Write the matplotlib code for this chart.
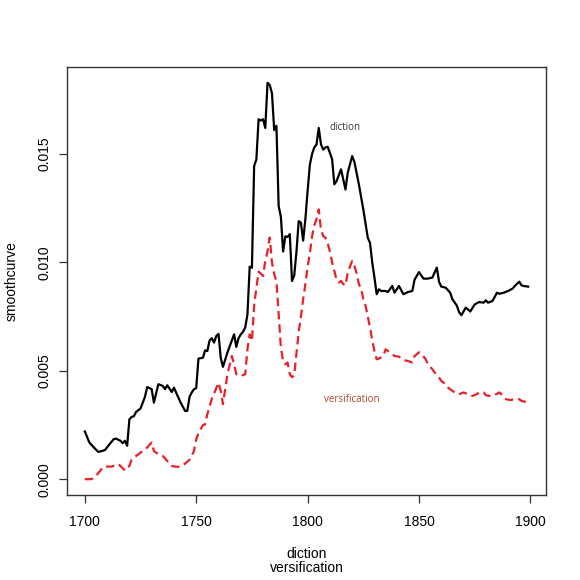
import matplotlib
matplotlib.use("Agg")
import matplotlib.pyplot as plt

diction_years = [1700, 1702, 1704, 1706, 1707, 1709, 1711, 1713, 1714, 1716, 1717, 1718, 1719,
                 1720, 1721, 1722, 1723, 1725, 1727, 1728, 1730, 1731, 1733, 1735, 1736, 1737,
                 1739, 1740, 1742, 1743, 1745, 1746, 1747, 1748, 1749, 1750, 1751, 1753, 1754,
                 1755, 1756, 1757, 1758, 1759, 1760, 1761, 1762, 1764, 1766, 1767, 1768, 1769,
                 1770, 1771, 1772, 1773, 1774, 1775, 1776, 1777, 1778, 1779, 1780, 1781, 1782,
                 1783, 1784, 1785, 1786, 1787, 1788, 1789, 1790, 1791, 1792, 1793, 1794, 1795,
                 1796, 1797, 1798, 1799, 1800, 1801, 1802, 1803, 1804, 1805, 1806, 1807, 1808,
                 1809, 1810, 1811, 1812, 1813, 1815, 1817, 1818, 1820, 1821, 1823, 1825, 1827,
                 1828, 1829, 1830, 1831, 1832, 1833, 1835, 1836, 1838, 1839, 1841, 1843, 1845,
                 1847, 1848, 1850, 1852, 1854, 1856, 1858, 1859, 1860, 1862, 1864, 1865, 1867,
                 1868, 1869, 1871, 1872, 1873, 1875, 1877, 1879, 1880, 1881, 1883, 1885, 1886,
                 1888, 1890, 1892, 1893, 1895, 1896, 1897, 1899]
diction_values = [0.00220, 0.00170, 0.00147, 0.00126, 0.00128, 0.00134, 0.00160, 0.00185, 0.00187,
                  0.00177, 0.00166, 0.00177, 0.00154, 0.00276, 0.00287, 0.00290, 0.00310, 0.00326,
                  0.00380, 0.00425, 0.00415, 0.00353, 0.00438, 0.00430, 0.00415, 0.00433, 0.00402,
                  0.00422, 0.00376, 0.00353, 0.00315, 0.00315, 0.00380, 0.00400, 0.00415, 0.00420,
                  0.00556, 0.00560, 0.00594, 0.00591, 0.00640, 0.00650, 0.00630, 0.00660, 0.00670,
                  0.00560, 0.00518, 0.00584, 0.00640, 0.00668, 0.00610, 0.00650, 0.00668, 0.00679,
                  0.00700, 0.00760, 0.00980, 0.00975, 0.01444, 0.01475, 0.01660, 0.01654, 0.01660,
                  0.01620, 0.01828, 0.01818, 0.01780, 0.01610, 0.01630, 0.01260, 0.01210, 0.01050,
                  0.01120, 0.01117, 0.01130, 0.00914, 0.00940, 0.01050, 0.01190, 0.01183, 0.01100,
                  0.01200, 0.01330, 0.01450, 0.01500, 0.01530, 0.01544, 0.01620, 0.01544, 0.01520,
                  0.01530, 0.01533, 0.01505, 0.01475, 0.01360, 0.01375, 0.01429, 0.01336, 0.01413,
                  0.01490, 0.01463, 0.01360, 0.01244, 0.01114, 0.01090, 0.01000, 0.00930, 0.00853,
                  0.00876, 0.00868, 0.00868, 0.00863, 0.00891, 0.00860, 0.00891, 0.00853, 0.00863,
                  0.00868, 0.00920, 0.00955, 0.00925, 0.00925, 0.00930, 0.00976, 0.00910, 0.00888,
                  0.00883, 0.00860, 0.00830, 0.00800, 0.00770, 0.00756, 0.00791, 0.00783, 0.00773,
                  0.00806, 0.00817, 0.00814, 0.00825, 0.00814, 0.00822, 0.00860, 0.00855, 0.00860,
                  0.00868, 0.00879, 0.00891, 0.00911, 0.00894, 0.00891, 0.00888]

versification_years = [1700, 1703, 1705, 1707, 1708, 1709, 1712, 1715, 1716, 1718, 1720, 1721, 1723,
                       1726, 1728, 1730, 1731, 1733, 1735, 1737, 1739, 1741, 1743, 1745, 1747, 1749,
                       1750, 1751, 1753, 1754, 1755, 1757, 1759, 1760, 1761, 1762, 1764, 1766, 1767,
                       1768, 1770, 1772, 1773, 1774, 1775, 1776, 1777, 1778, 1779, 1780, 1781, 1782,
                       1783, 1784, 1785, 1786, 1787, 1788, 1789, 1790, 1791, 1792, 1793, 1794, 1795,
                       1796, 1797, 1798, 1799, 1800, 1801, 1802, 1803, 1804, 1805, 1806, 1807, 1808,
                       1809, 1810, 1811, 1812, 1813, 1814, 1815, 1816, 1817, 1818, 1819, 1820, 1821,
                       1822, 1823, 1824, 1825, 1826, 1827, 1828, 1829, 1830, 1831, 1832, 1834, 1835,
                       1837, 1839, 1841, 1843, 1845, 1847, 1848, 1850, 1851, 1853, 1854, 1856, 1857,
                       1859, 1860, 1862, 1863, 1865, 1866, 1868, 1870, 1872, 1874, 1876, 1877, 1879,
                       1880, 1882, 1884, 1886, 1888, 1889, 1891, 1893, 1895, 1896, 1898, 1899]
versification_values = [0.0, 0.0, 0.00015, 0.00040, 0.00055, 0.00058, 0.00058, 0.00070, 0.00061,
                        0.00040, 0.00061, 0.00090, 0.00107, 0.00130, 0.00146, 0.00169, 0.00130,
                        0.00115, 0.00107, 0.00084, 0.00061, 0.00057, 0.00058, 0.00072, 0.00089,
                        0.00130, 0.00184, 0.00212, 0.00249, 0.00253, 0.00300, 0.00370, 0.00420,
                        0.00445, 0.00407, 0.00346, 0.00484, 0.00568, 0.00530, 0.00484, 0.00476,
                        0.00484, 0.00600, 0.00668, 0.00637, 0.00800, 0.00883, 0.00957, 0.00948,
                        0.00937, 0.01006, 0.01050, 0.01114, 0.01000, 0.00945, 0.00914, 0.00760,
                        0.00607, 0.00545, 0.00530, 0.00538, 0.00484, 0.00470, 0.00480, 0.00580,
                        0.00680, 0.00750, 0.00830, 0.00900, 0.00980, 0.01040, 0.01120, 0.01170,
                        0.01200, 0.01244, 0.01150, 0.01121, 0.01114, 0.01090, 0.01050, 0.01000,
                        0.00960, 0.00920, 0.00907, 0.00914, 0.00900, 0.00894, 0.00952, 0.00980,
                        0.01006, 0.00983, 0.00950, 0.00900, 0.00880, 0.00830, 0.00800, 0.00750,
                        0.00700, 0.00640, 0.00590, 0.00553, 0.00556, 0.00568, 0.00599, 0.00584,
                        0.00568, 0.00565, 0.00550, 0.00545, 0.00538, 0.00568, 0.00585, 0.00580,
                        0.00553, 0.00530, 0.00507, 0.00492, 0.00469, 0.00453, 0.00438, 0.00423,
                        0.00407, 0.00400, 0.00392, 0.00400, 0.00392, 0.00384, 0.00392, 0.00402,
                        0.00400, 0.00387, 0.00384, 0.00388, 0.00400, 0.00384, 0.00369, 0.00365,
                        0.00369, 0.00369, 0.00361, 0.00356, 0.00350]

x_ticks = [1700, 1750, 1800, 1850, 1900]
y_ticks = [0.000, 0.005, 0.010, 0.015]
y_tick_labels = ["0.000", "0.005", "0.010", "0.015"]

plt.rcParams['font.family'] = ['Liberation Sans', 'DejaVu Sans']

fig = plt.figure(figsize=(5.8, 5.8), dpi=100)
ax = fig.add_axes([67/580, 1 - 495/580, (546 - 67)/580, (495 - 67)/580])

ax.plot(diction_years, diction_values, color='black', lw=1.6, solid_joinstyle='round')
ax.plot(versification_years, versification_values, color='#e8202a', lw=1.6,
        dashes=(3.8, 2.2))

ax.text(1817, 0.01622, "diction", fontsize=7, color='#333333', ha='center', va='center',
        family=['Open Sans', 'DejaVu Sans'])
ax.text(1820, 0.00369, "versification", fontsize=7, color='#b8402e', ha='center', va='center',
        family=['Open Sans', 'DejaVu Sans'])

ax.set_xlim(1692, 1907)
ax.set_ylim(-0.00073, 0.01901)
ax.set_xticks(x_ticks)
ax.set_xticklabels([str(t) for t in x_ticks])
ax.set_yticks(y_ticks)
ax.set_yticklabels(y_tick_labels, rotation=90, va='center')

for s in ax.spines.values():
    s.set_color('#333333')
    s.set_linewidth(1.0)
ax.tick_params(axis='both', length=5.5, width=0.9, color='#333333', labelsize=10)
ax.tick_params(axis='x', pad=9)
ax.tick_params(axis='y', pad=6)

fig.text(307/580, 1 - 561/580, "diction\nversification", ha='center', va='center',
         fontsize=10, linespacing=1.05)
fig.text(12/580, 1 - 281/580, "smoothcurve", ha='center', va='center', rotation=90,
         fontsize=10)

fig.savefig("out.png", dpi=100)
